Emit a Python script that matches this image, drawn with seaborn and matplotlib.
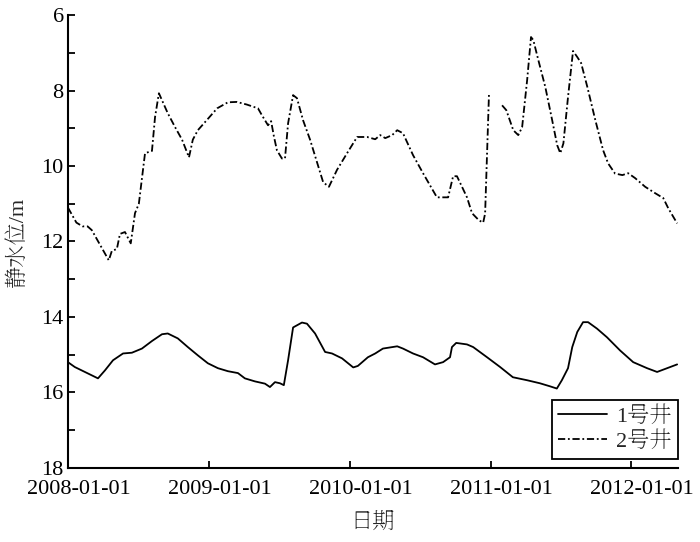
import numpy as np
import pandas as pd
import matplotlib
matplotlib.use("Agg")
import matplotlib.pyplot as plt
import matplotlib.dates as mdates
import matplotlib.transforms as mtransforms
from matplotlib.lines import Line2D
import seaborn as sns

sns.set_style("ticks")
# Times-like digits, serif CJK for the Chinese labels
plt.rcParams["font.family"] = ["Liberation Serif", "Noto Serif SC", "Noto Sans CJK SC"]
plt.rcParams["axes.unicode_minus"] = False

# 1号井 (solid line), static water level in m
well1_dates = [
    "2008-01-01", "2008-01-19", "2008-02-14", "2008-03-03", "2008-03-19", "2008-04-06",
    "2008-04-27", "2008-05-23", "2008-06-15", "2008-07-11", "2008-08-06", "2008-09-01",
    "2008-09-16", "2008-10-12", "2008-11-07", "2008-12-03", "2008-12-29", "2009-01-24",
    "2009-02-19", "2009-03-17", "2009-04-04", "2009-04-30", "2009-05-26", "2009-06-08",
    "2009-06-21", "2009-07-04", "2009-07-14", "2009-07-25", "2009-08-07", "2009-08-30",
    "2009-09-12", "2009-10-03", "2009-10-29", "2009-11-16", "2009-12-12", "2010-01-10",
    "2010-01-22", "2010-02-17", "2010-03-08", "2010-03-28", "2010-05-04", "2010-05-19",
    "2010-06-14", "2010-07-10", "2010-08-10", "2010-08-31", "2010-09-18", "2010-09-23",
    "2010-10-04", "2010-11-01", "2010-11-17", "2010-12-23", "2011-01-26", "2011-02-28",
    "2011-04-06", "2011-05-09", "2011-06-04", "2011-06-22", "2011-07-05", "2011-07-21",
    "2011-08-01", "2011-08-14", "2011-08-29", "2011-09-11", "2011-10-04", "2011-10-30",
    "2011-12-03", "2012-01-06", "2012-02-11", "2012-03-08", "2012-04-03", "2012-04-29",
]
well1_level = [
    15.20, 15.33, 15.46, 15.55, 15.63, 15.42,
    15.15, 14.97, 14.95, 14.84, 14.64, 14.46,
    14.44, 14.57, 14.80, 15.02, 15.23, 15.36,
    15.44, 15.49, 15.63, 15.71, 15.77, 15.86,
    15.73, 15.76, 15.81, 15.15, 14.28, 14.15,
    14.18, 14.44, 14.93, 14.97, 15.10, 15.34,
    15.30, 15.07, 14.97, 14.84, 14.78, 14.84,
    14.97, 15.07, 15.26, 15.20, 15.07, 14.80,
    14.69, 14.73, 14.80, 15.07, 15.33, 15.60,
    15.68, 15.76, 15.84, 15.90, 15.68, 15.36,
    14.80, 14.40, 14.14, 14.14, 14.31, 14.54,
    14.89, 15.20, 15.36, 15.46, 15.36, 15.26,
]

# 2号井 (dash-dot line); NaN marks the break in the record early 2011
well2_dates = [
    "2008-01-01", "2008-01-23", "2008-02-08", "2008-02-21", "2008-03-03", "2008-04-16",
    "2008-04-24", "2008-05-07", "2008-05-15", "2008-05-28", "2008-06-12", "2008-06-23",
    "2008-07-03", "2008-07-19", "2008-08-06", "2008-08-14", "2008-08-24", "2008-09-16",
    "2008-10-05", "2008-10-23", "2008-11-10", "2008-11-20", "2008-12-03", "2008-12-29",
    "2009-01-22", "2009-02-19", "2009-03-14", "2009-04-09", "2009-05-08", "2009-05-18",
    "2009-06-03", "2009-06-11", "2009-06-18", "2009-06-26", "2009-07-09", "2009-07-17",
    "2009-07-25", "2009-08-07", "2009-08-17", "2009-09-02", "2009-09-20", "2009-10-24",
    "2009-11-08", "2009-11-29", "2009-12-25", "2010-01-20", "2010-02-15", "2010-03-08",
    "2010-03-21", "2010-04-03", "2010-04-21", "2010-05-04", "2010-05-19", "2010-06-14",
    "2010-07-10", "2010-08-15", "2010-09-13", "2010-09-26", "2010-10-06", "2010-11-01",
    "2010-11-14", "2010-12-02", "2010-12-13", "2010-12-18", "2010-12-28", "2011-01-12",
    "2011-01-31", "2011-02-11", "2011-03-01", "2011-03-14", "2011-03-24", "2011-04-06",
    "2011-04-16", "2011-04-22", "2011-05-05", "2011-05-23", "2011-06-10", "2011-06-23",
    "2011-07-01", "2011-07-09", "2011-07-21", "2011-08-03", "2011-08-14", "2011-08-24",
    "2011-09-09", "2011-09-30", "2011-10-20", "2011-11-02", "2011-11-20", "2011-12-09",
    "2011-12-24", "2012-01-11", "2012-02-06", "2012-03-03", "2012-03-24", "2012-04-06",
    "2012-04-29",
]
well2_level = [
    11.10, 11.50, 11.60, 11.60, 11.70, 12.50,
    12.25, 12.20, 11.80, 11.75, 12.05, 11.25,
    11.00, 9.66, 9.60, 8.70, 8.07, 8.60,
    8.97, 9.30, 9.77, 9.30, 9.05, 8.75,
    8.47, 8.31, 8.30, 8.37, 8.47, 8.65,
    8.92, 8.81, 9.20, 9.58, 9.80, 9.80,
    8.87, 8.12, 8.20, 8.79, 9.30, 10.43,
    10.55, 10.10, 9.66, 9.23, 9.23, 9.29,
    9.18, 9.26, 9.18, 9.05, 9.13, 9.71,
    10.19, 10.83, 10.83, 10.27, 10.27, 10.83,
    11.25, 11.44, 11.50, 11.26, 8.10, np.nan,
    8.39, 8.52, 9.05, 9.18, 8.97, 7.72,
    6.58, 6.66, 7.19, 7.90, 8.79, 9.45,
    9.66, 9.40, 8.17, 6.95, 7.11, 7.27,
    7.90, 8.79, 9.58, 9.93, 10.20, 10.24,
    10.19, 10.32, 10.55, 10.72, 10.85, 11.12,
    11.52,
]

series_names = ["1号井", "2号井"]
dashdot = (0, (4, 1.5, 1, 1.5))

df1 = pd.DataFrame({"date": pd.to_datetime(well1_dates), "level": well1_level})
df2 = pd.DataFrame({"date": pd.to_datetime(well2_dates), "level": well2_level})
df2["seg"] = df2["level"].isna().cumsum()
df2 = df2.dropna()

fig, ax = plt.subplots(figsize=(7, 5.42), dpi=100)
fig.subplots_adjust(left=0.097, right=0.969, top=0.972, bottom=0.137)

sns.lineplot(data=df1, x="date", y="level", estimator=None, color="black", lw=1.3, ax=ax)
sns.lineplot(data=df2, x="date", y="level", units="seg", estimator=None,
             color="black", lw=1.3, linestyle=dashdot, ax=ax)

ax.set_ylim(18, 6)
ax.set_yticks(range(6, 19, 2))
ax.set_yticks(range(7, 18, 2), minor=True)
ax.set_xlim(pd.Timestamp("2008-01-01"), pd.Timestamp("2012-05-02"))
ax.xaxis.set_major_locator(mdates.YearLocator())
ax.xaxis.set_major_formatter(mdates.DateFormatter("%Y-%m-%d"))

ax.tick_params(which="both", direction="in", length=5, width=1.3, colors="black", labelsize=16)
ax.tick_params(axis="x", pad=9)
ax.tick_params(axis="y", pad=3)
sns.despine(ax=ax)
for s in ["left", "bottom"]:
    ax.spines[s].set_linewidth(1.5)
    ax.spines[s].set_color("black")

ax.set_xlabel("日期", fontsize=16, labelpad=10)
ax.set_ylabel("静水位/m", fontsize=16, labelpad=10)

# labels in the original sit a little right of their ticks
shift = mtransforms.ScaledTranslation(8 / 72, 0, fig.dpi_scale_trans)
for lbl in ax.get_xticklabels():
    lbl.set_transform(lbl.get_transform() + shift)

handles = [Line2D([], [], color="black", lw=1.3),
           Line2D([], [], color="black", lw=1.3, linestyle=dashdot)]
leg = ax.legend(handles, series_names, loc="lower right", bbox_to_anchor=(1.0, 0.02),
                borderaxespad=0, fontsize=16, frameon=True, fancybox=False,
                framealpha=1, edgecolor="black", handlelength=2.2, handletextpad=0.4,
                borderpad=0.3, labelspacing=0.2)
leg.get_frame().set_linewidth(1.3)

fig.savefig("out.png", dpi=100)
